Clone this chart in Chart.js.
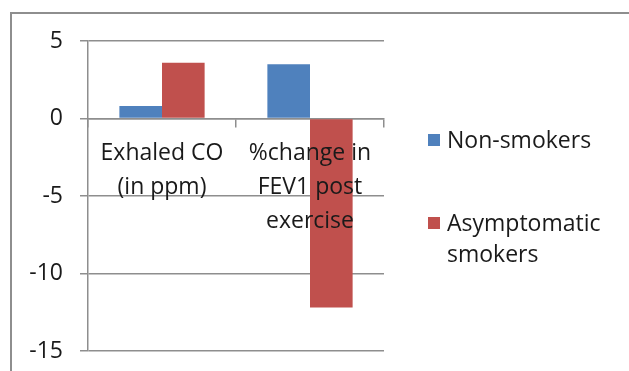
<!DOCTYPE html>
<html>
<head>
<meta charset="utf-8">
<script src="https://cdn.jsdelivr.net/npm/chart.js@4"></script>
<style>
  html, body { margin: 0; padding: 0; background: #fff; overflow: hidden; }
  #wrap { position: relative; width: 629px; height: 371px; overflow: hidden; }
  #frame {
    position: absolute; left: 10px; top: 12px; width: 700px; height: 420px;
    border: 2px solid #8e8e8e; box-sizing: border-box;
  }
  #chart { position: absolute; left: 0; top: 0; }
  #legend {
    position: absolute; left: 428px; top: 124px; width: 190px;
    margin: 0; padding: 0; list-style: none;
    font-family: "Open Sans", sans-serif; font-size: 23px; line-height: 31px; color: #1a1a1a;
  }
  #legend li { position: relative; padding-left: 19px; margin-bottom: 52px; width: 170px; }
  #legend .sw { position: absolute; left: 0; top: 10px; width: 12px; height: 12px; }
</style>
</head>
<body>
<div id="wrap">
  <div id="frame"></div>
  <canvas id="chart" width="629" height="371"></canvas>
  <ul id="legend"></ul>
</div>
<script>
// Measurements (multi-line category labels)
const categories = [
  ['Exhaled CO', '(in ppm)'],
  ['%change in', 'FEV1 post', 'exercise']
];
const seriesNames = ['Non-smokers', 'Asymptomatic smokers'];
const nonSmokers = [0.8, 3.5];
const asymptomaticSmokers = [3.6, -12.2];
const yTickValues = [5, 0, -5, -10, -15];

const seriesColors = ['#4F81BD', '#C0504D'];
const gridColor = '#8e8e8e';
const textColor = '#1a1a1a';
const font = { family: '"Open Sans", sans-serif', size: 23 };

const chart = new Chart(document.getElementById('chart'), {
  type: 'bar',
  data: {
    labels: categories,
    datasets: [
      { label: seriesNames[0], data: nonSmokers, backgroundColor: seriesColors[0] },
      { label: seriesNames[1], data: asymptomaticSmokers, backgroundColor: seriesColors[1] }
    ]
  },
  options: {
    responsive: false,
    animation: false,
    events: [],
    layout: { padding: { left: 0, right: 245, top: 41, bottom: 20 } },
    datasets: { bar: { categoryPercentage: 0.576, barPercentage: 1.0, borderWidth: 0 } },
    plugins: { legend: { display: false }, tooltip: { enabled: false } },
    scales: {
      x: {
        position: { y: 0 },
        // the axis sits on the zero line, so it needs no room of its own
        afterFit: (s) => { s.paddingLeft = 0; s.paddingRight = 0; s.paddingTop = 0; s.paddingBottom = 0; },
        grid: { drawOnChartArea: false, drawTicks: true, tickLength: 8, color: gridColor, lineWidth: 1.5 },
        border: { display: true, color: gridColor, width: 1.5 },
        ticks: {
          z: 1, padding: 10, maxRotation: 0, autoSkip: false,
          color: textColor, font: Object.assign({ lineHeight: '34px' }, font)
        }
      },
      y: {
        min: -15, max: 5,
        afterBuildTicks: (scale) => { scale.ticks = yTickValues.map(v => ({ value: v })); },
        afterFit: (s) => { s.width = 88; s.paddingTop = 0; s.paddingBottom = 0; },
        grid: { color: gridColor, lineWidth: 1.5, tickLength: 8, drawTicks: true },
        border: { display: true, color: gridColor, width: 1.5 },
        ticks: { padding: 17, color: textColor, font: font }
      }
    }
  }
});

// Legend list built from the chart's datasets
const legendEl = document.getElementById('legend');
chart.data.datasets.forEach(ds => {
  const li = document.createElement('li');
  const sw = document.createElement('span');
  sw.className = 'sw';
  sw.style.background = ds.backgroundColor;
  li.appendChild(sw);
  li.appendChild(document.createTextNode(ds.label));
  legendEl.appendChild(li);
});
</script>
</body>
</html>
